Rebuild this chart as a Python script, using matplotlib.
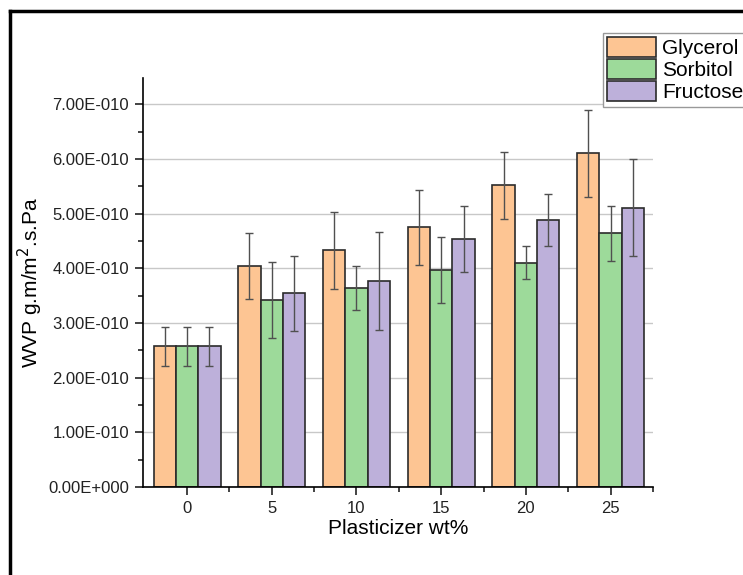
import matplotlib.pyplot as plt
import numpy as np
from matplotlib.lines import Line2D
from matplotlib.ticker import FuncFormatter, MultipleLocator

# datos
conc = ["0", "5", "10", "15", "20", "25"]
series = ["Glycerol", "Sorbitol", "Fructose"]
glycerol = [2.57, 4.04, 4.33, 4.75, 5.52, 6.10]
sorbitol = [2.57, 3.42, 3.64, 3.97, 4.10, 4.64]
fructose = [2.57, 3.54, 3.77, 4.53, 4.88, 5.11]
err_gly = [0.35, 0.60, 0.70, 0.69, 0.61, 0.80]
err_sor = [0.35, 0.69, 0.40, 0.60, 0.30, 0.50]
err_fru = [0.35, 0.69, 0.89, 0.60, 0.48, 0.89]
colores = ["#FDC593", "#9DDA9A", "#BDB0DA"]

plt.rcParams['font.family'] = ['Liberation Sans', 'DejaVu Sans']

fig = plt.figure(figsize=(7.43, 5.75), dpi=100)
ax = fig.add_axes([143 / 743, 1 - 487 / 575, (653 - 143) / 743, (487 - 78) / 575])

x = np.arange(len(conc))
w = 0.264
datos = [glycerol, sorbitol, fructose]
errores = [err_gly, err_sor, err_fru]
for i in range(3):
    vals = np.array(datos[i]) * 1e-10
    errs = np.array(errores[i]) * 1e-10
    ax.bar(x + (i - 1) * w, vals, w, color=colores[i], edgecolor="#2b2b2b",
           linewidth=1.2, label=series[i], zorder=2)
    ax.errorbar(x + (i - 1) * w, vals, yerr=errs, fmt="none", ecolor="#505050",
                elinewidth=1, capsize=3, capthick=1, zorder=3)

ax.set_xlim(-0.52, 5.5)
ax.set_ylim(0, 7.48e-10)
ax.set_xticks(x)
ax.set_xticklabels(conc)
ax.set_xticks(x + 0.5, minor=True)
ax.yaxis.set_major_locator(MultipleLocator(1e-10))
ax.yaxis.set_minor_locator(MultipleLocator(0.5e-10))


def fmt(v, pos):
    if abs(v) < 1e-20:
        return "0.00E+000"
    e = int(np.floor(np.log10(abs(v))))
    m = v / 10 ** e
    return "%.2fE-%03d" % (m, -e)


ax.yaxis.set_major_formatter(FuncFormatter(fmt))
ax.grid(axis="y", color="#c8c8c8", linewidth=1, zorder=0)
ax.set_axisbelow(True)
ax.spines["top"].set_visible(False)
ax.spines["right"].set_visible(False)
ax.spines["left"].set_linewidth(1.2)
ax.spines["bottom"].set_linewidth(1.2)
ax.tick_params(which="major", direction="out", length=6, width=1.2, labelsize=12,
               colors="#222222", pad=4)
ax.tick_params(which="minor", direction="out", length=3.5, width=1.2, colors="#222222")
ax.set_xlabel("Plasticizer wt%", fontsize=15, labelpad=2)
ax.set_ylabel("WVP g.m/m$^2$.s.Pa", fontsize=15, labelpad=2)

leg = fig.legend(loc="upper left", bbox_to_anchor=(603 / 743, 1 - 33 / 575),
                 fontsize=15, handlelength=2.35, handleheight=1.1, labelspacing=0.05,
                 borderpad=0.2, handletextpad=0.3, fancybox=False, framealpha=1,
                 edgecolor="#999999", borderaxespad=0)
for p in leg.get_patches():
    p.set_edgecolor("#2b2b2b")

# marco recortado de la figura
fig.add_artist(Line2D([10 / 743, 1], [1 - 11 / 575, 1 - 11 / 575], color="black", linewidth=2.5))
fig.add_artist(Line2D([10 / 743, 10 / 743], [0, 1 - 11 / 575], color="black", linewidth=2.5))

fig.savefig("out.png", dpi=100)
